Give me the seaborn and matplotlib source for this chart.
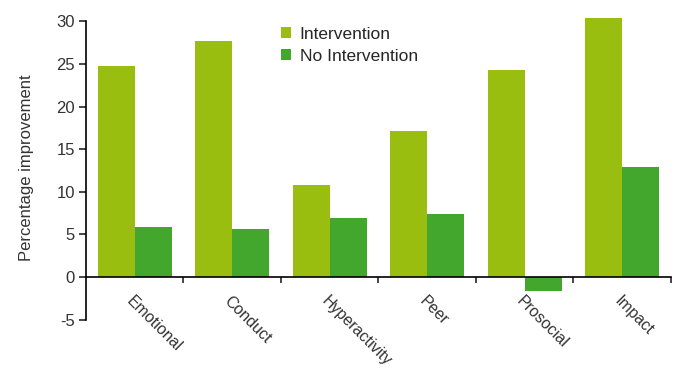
import pandas as pd
import seaborn as sns
from matplotlib import pyplot as plt
from matplotlib.ticker import FixedLocator

# data
categories = ["Emotional", "Conduct", "Hyperactivity", "Peer", "Prosocial", "Impact"]
intervention = [24.8, 27.7, 10.8, 17.1, 24.3, 30.4]
no_intervention = [5.9, 5.7, 6.9, 7.4, -1.6, 12.9]

df = pd.DataFrame({
    "category": categories * 2,
    "value": intervention + no_intervention,
    "group": ["Intervention"] * 6 + ["No Intervention"] * 6,
})

sns.set_style("white")
plt.rcParams["font.family"] = ["Liberation Sans", "DejaVu Sans"]
plt.rcParams["axes.unicode_minus"] = False

fig = plt.figure(figsize=(6.77, 3.71), dpi=100)
ax = fig.add_axes([0.127, 0.138, 0.864, 0.8186])

sns.barplot(data=df, x="category", y="value", hue="group",
            palette=["#9abe10", "#43a62d"], width=0.76, saturation=1,
            linewidth=0, ax=ax)

ax.set_ylim(-5, 30.6)
ax.set_xlim(-0.5, 5.5)
ax.set_yticks(range(-5, 31, 5))
ax.set_xlabel("")
ax.set_ylabel("Percentage improvement", fontsize=12, color="#333333",
              labelpad=16)

for s in ["top", "right"]:
    ax.spines[s].set_visible(False)
ax.spines["left"].set_bounds(-5, 30)
ax.spines["bottom"].set_position(("data", 0))
for s in ["left", "bottom"]:
    ax.spines[s].set_color("black")
    ax.spines[s].set_linewidth(1.2)

ax.tick_params(axis="y", left=True, length=5, width=1.2, labelsize=12,
               labelcolor="#333333", pad=3)
ax.xaxis.set_minor_locator(FixedLocator([0.5, 1.5, 2.5, 3.5, 4.5, 5.5]))
ax.tick_params(axis="x", which="minor", bottom=True, length=4, width=1.2)
ax.tick_params(axis="x", which="major", bottom=False, length=0, pad=12,
               labelsize=11.5, labelcolor="#333333")
for lab in ax.get_xticklabels():
    lab.set_rotation(-45)
    lab.set_ha("left")
    lab.set_va("top")
    lab.set_rotation_mode("anchor")

ax.legend(loc="upper left", bbox_to_anchor=(0.306, 1.016), frameon=False,
          fontsize=12.5, handlelength=0.6, handleheight=0.6,
          handletextpad=0.5, labelspacing=0.4)

fig.savefig("out.png", dpi=100)
